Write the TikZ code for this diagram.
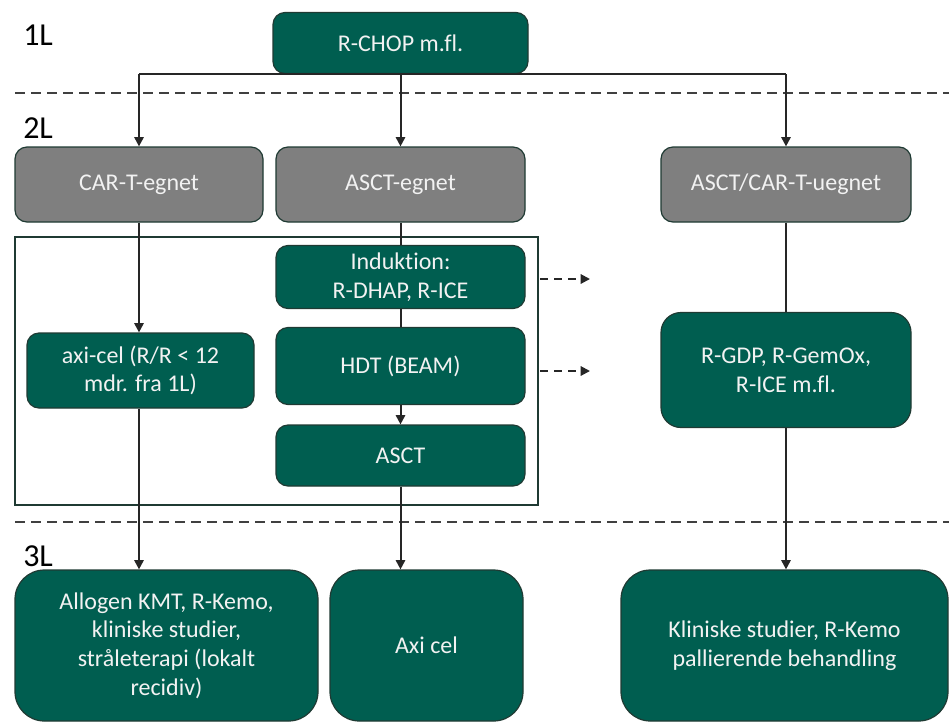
\documentclass[tikz,border=0pt]{standalone}
\usepackage{fontspec}
\setmainfont{Carlito}[Ligatures={NoCommon}]
\usetikzlibrary{arrows.meta, positioning, calc}
\definecolor{boxgreen}{HTML}{005E50}
\definecolor{boxgray}{HTML}{7F7F7F}
\definecolor{edgedark}{HTML}{1F3A33}
\definecolor{txtlight}{HTML}{F2F2F2}
\definecolor{sepgray}{HTML}{404040}
\definecolor{arrowdk}{HTML}{262626}

\begin{document}
\begin{tikzpicture}[
  x=0.75pt, y=-0.75pt,
  >={Triangle[length=7pt, width=7pt]},
  boxsize/.style 2 args={minimum width=#1*0.75pt, minimum height=#2*0.75pt},
  box/.style={draw=edgedark, line width=0.9pt, text=txtlight, align=center,
    font=\fontsize{18}{21.5}\selectfont, inner sep=0pt, rounded corners=9pt},
  greenbox/.style={box, fill=boxgreen},
  graybox/.style={box, fill=boxgray},
  bigbox/.style={greenbox, rounded corners=22pt},
  framebox/.style={draw=edgedark, line width=1.5pt, inner sep=0pt},
  flow/.style={arrowdk, line width=1.5pt},
  sidearrow/.style={flow, dash pattern=on 6pt off 4.5pt},
  levelsep/.style={sepgray, line width=1.5pt, dash pattern=on 7.5pt off 4.5pt},
  level/.style={font=\fontsize{24}{28}\selectfont, anchor=base west, inner sep=0pt}
]

\useasboundingbox (0,0) rectangle (949,722);

% Level labels and separators
\node[level] (lvl1) at (23,45) {1L};
\node[level] (lvl2) at (23,138) {2L};
\node[level] (lvl3) at (23,566) {3L};
\draw[levelsep] (15,93) -- (949,93);
\draw[levelsep] (15,522) -- (949,522);

% 1L
\node[greenbox, boxsize={255}{61}] (rchop) at (400.5,43) {R-CHOP m.fl.};

% 2L
\node[graybox, boxsize={248}{75}] (cart) at (139,184.5) {CAR-T-egnet};
\node[graybox, boxsize={249}{75}] (asctok) at (400.5,184.5) {ASCT-egnet};
\node[graybox, boxsize={250}{75}] (unfit) at (786,184.5) {ASCT/CAR-T-uegnet};

\node[framebox, boxsize={523}{268}] (group) at (276.5,371) {};
\node[greenbox, boxsize={249}{63}] (induk) at (400.5,277) {Induktion:\\R-DHAP, R-ICE};
\node[greenbox, boxsize={249}{77}] (hdt) at (400.5,366) {HDT (BEAM)};
\node[greenbox, boxsize={249}{61}] (asct) at (400.5,455.5) {ASCT};
\node[greenbox, boxsize={227}{75}] (axicel) at (140.5,370.5) {axi-cel (R/R < 12\\mdr. fra 1L)};
\node[greenbox, boxsize={250}{115}, rounded corners=15pt] (rgdp) at (786,370)
  {R-GDP, R-GemOx,\\R-ICE m.fl.};

% 3L
\node[bigbox, boxsize={303}{151}] (allo) at (166.5,645.5)
  {Allogen KMT, R-Kemo,\\kliniske studier,\\stråleterapi (lokalt\\recidiv)};
\node[bigbox, boxsize={193}{151}] (axi) at (426.5,645.5) {Axi cel};
\node[bigbox, boxsize={327}{151}] (klin) at (784.5,645.5)
  {Kliniske studier, R-Kemo\\pallierende behandling};

% Split from 1L
\coordinate (splitl) at (cart.north |- rchop.south);
\coordinate (splitr) at (unfit.north |- rchop.south);
\draw[flow] (splitl) -- (splitr);
\draw[flow, ->] (splitl) -- (cart.north);
\draw[flow, ->] (rchop.south) -- (asctok.north);
\draw[flow, ->] (splitr) -- (unfit.north);

% CAR-T branch
\draw[flow, ->] (cart.south) -- (cart.south |- axicel.north);
\draw[flow, ->] (cart.south |- axicel.south) -- (cart.south |- allo.north);

% ASCT branch
\draw[flow] (asctok.south) -- (induk.north);
\draw[flow] (induk.south) -- (hdt.north);
\draw[flow, ->] (hdt.south) -- (asct.north);
\draw[flow, ->] (asct.south) -- (asct.south |- axi.north);

% Unfit branch
\draw[flow] (unfit.south) -- (rgdp.north);
\draw[flow, ->] (rgdp.south) -- (rgdp.south |- klin.north);

% Side arrows
\coordinate (indout) at (540,279);
\coordinate (hdtout) at (540,371);
\draw[sidearrow, ->] (indout) -- ++(50,0);
\draw[sidearrow, ->] (hdtout) -- ++(50,0);

\end{tikzpicture}
\end{document}
